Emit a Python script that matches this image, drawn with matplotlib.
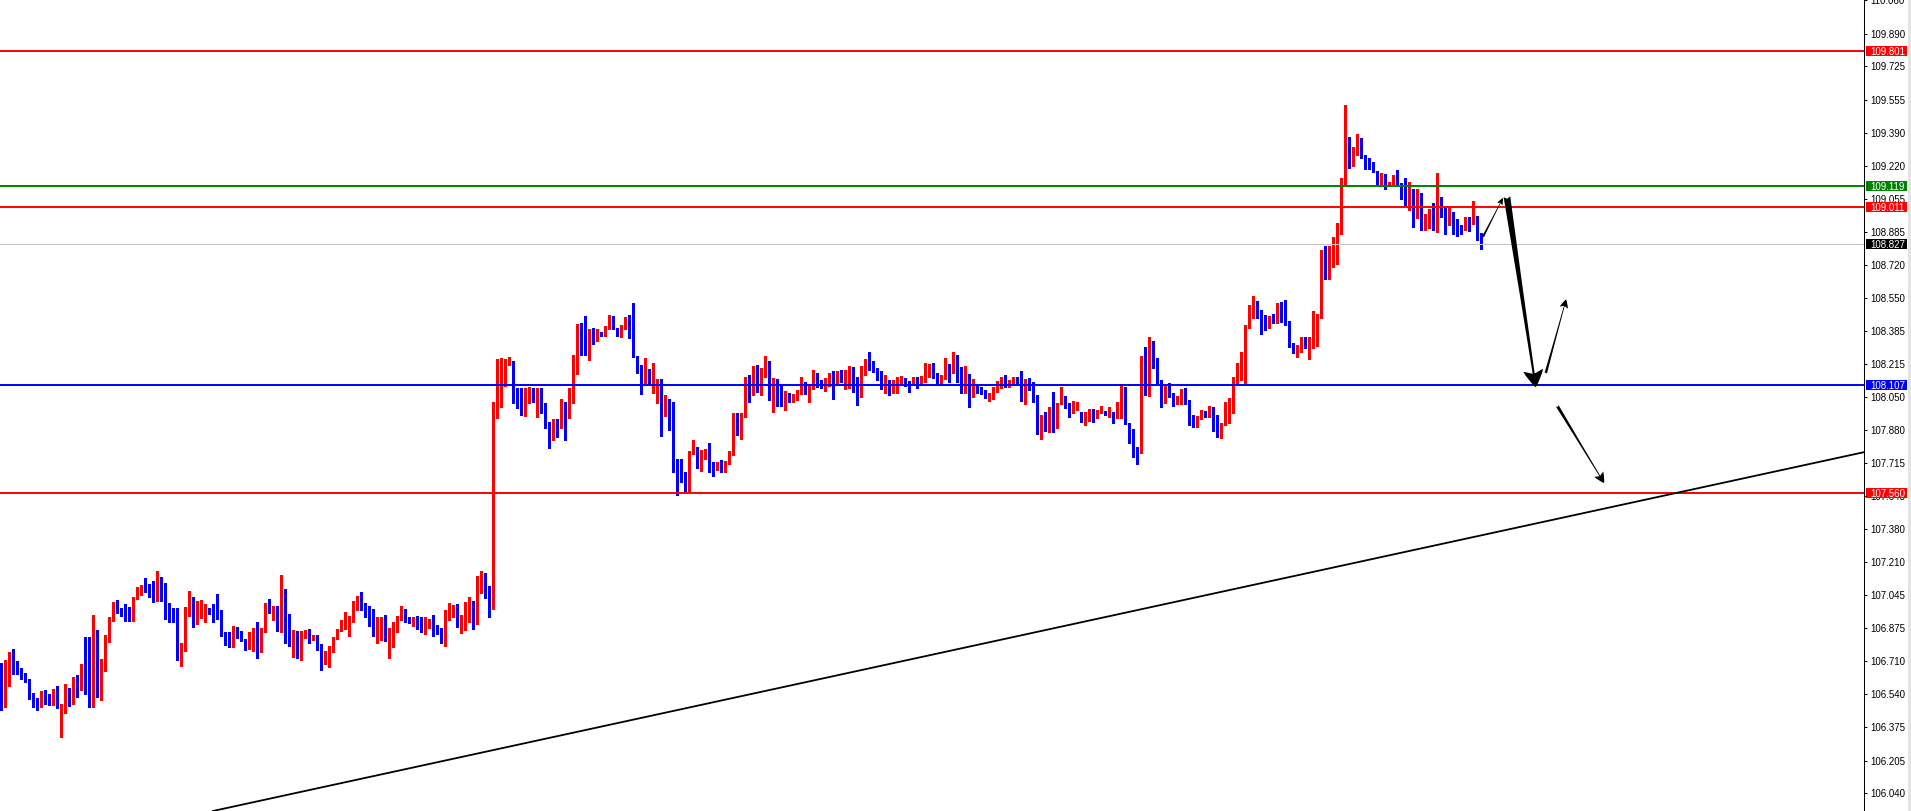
import numpy as np
import matplotlib
matplotlib.use('Agg')
import matplotlib.pyplot as plt
from matplotlib.patches import Rectangle
from matplotlib.transforms import blended_transform_factory

# ------------------------- Data (USDJPY-like H1 candles) -------------------------
opens = [
    106.654, 106.504, 106.690, 106.750, 106.684, 106.674, 106.619, 106.608, 106.527, 106.512,
    106.483, 106.544, 106.539, 106.493, 106.537, 106.473, 106.482, 106.537, 106.529, 106.619,
    106.575, 106.695, 106.695, 106.487, 106.857, 106.553, 106.671, 106.833, 106.930, 107.001,
    106.970, 106.948, 106.933, 106.923, 107.026, 107.077, 107.085, 107.065, 107.045, 107.016,
    107.109, 107.080, 106.979, 106.974, 106.969, 106.752, 106.762, 106.970, 107.019, 106.955,
    106.962, 106.965, 106.974, 106.953, 107.004, 106.969, 106.850, 106.847, 106.813, 106.860,
    106.862, 106.821, 106.788, 106.824, 106.866, 106.853, 106.870, 106.998, 106.971, 106.988,
    106.866, 107.074, 106.841, 106.812, 106.821, 106.736, 106.833, 106.855, 106.829, 106.836,
    106.773, 106.701, 106.751, 106.778, 106.822, 106.866, 106.897, 106.904, 106.924, 106.976,
    106.981, 106.985, 106.963, 106.895, 106.858, 106.863, 106.887, 106.821, 106.836, 106.878,
    106.924, 106.951, 106.927, 106.907, 106.914, 106.892, 106.863, 106.892, 106.912, 106.870,
    106.866, 106.799, 106.927, 106.951, 106.959, 106.887, 106.924, 106.971, 106.980, 106.926,
    107.106, 107.149, 107.076, 106.973, 107.994, 108.109, 108.197, 108.219, 108.231, 108.070,
    107.996, 107.957, 108.058, 108.073, 108.033, 108.080, 108.019, 107.918, 107.877, 107.931,
    107.914, 108.016, 107.999, 108.045, 108.227, 108.413, 108.401, 108.273, 108.384, 108.334,
    108.376, 108.364, 108.405, 108.427, 108.396, 108.368, 108.405, 108.444, 108.357, 108.256,
    108.188, 108.134, 108.185, 108.121, 108.126, 108.131, 107.960, 108.033, 108.023, 107.718,
    107.691, 107.668, 107.590, 107.771, 107.796, 107.739, 107.762, 107.774, 107.718, 107.691,
    107.708, 107.683, 107.715, 107.759, 107.953, 107.869, 107.952, 108.126, 108.070, 108.151,
    108.139, 108.168, 108.199, 108.050, 108.134, 108.041, 108.013, 108.057, 108.043, 108.050,
    108.070, 108.123, 108.080, 108.101, 108.163, 108.109, 108.104, 108.117, 108.172, 108.126,
    108.168, 108.134, 108.160, 108.185, 108.087, 108.075, 108.199, 108.239, 108.231, 108.180,
    108.177, 108.097, 108.131, 108.074, 108.092, 108.129, 108.134, 108.126, 108.109, 108.151,
    108.129, 108.139, 108.160, 108.190, 108.160, 108.126, 108.143, 108.188, 108.185, 108.222,
    108.190, 108.079, 108.165, 108.075, 108.109, 108.089, 108.074, 108.050, 108.055, 108.092,
    108.115, 108.130, 108.109, 108.123, 108.147, 108.123, 108.055, 108.118, 108.101, 108.050,
    107.885, 107.932, 107.881, 107.983, 107.979, 108.016, 108.054, 107.996, 107.969, 107.983,
    107.971, 107.929, 107.957, 107.971, 107.966, 107.971, 107.974, 107.962, 107.971, 107.944,
    107.971, 108.089, 107.915, 107.876, 107.788, 107.783, 108.231, 108.079, 108.282, 108.236,
    108.126, 108.025, 108.104, 108.064, 108.020, 108.020, 108.033, 108.016, 107.922, 107.903,
    107.944, 107.969, 107.957, 107.983, 107.907, 107.856, 107.910, 107.978, 108.005, 108.143,
    108.157, 108.233, 108.409, 108.487, 108.499, 108.473, 108.460, 108.423, 108.448, 108.431,
    108.510, 108.482, 108.434, 108.313, 108.291, 108.296, 108.346, 108.304, 108.335, 108.375,
    108.456, 108.774, 108.668, 108.781, 108.808, 108.909, 109.138, 109.285, 109.234, 109.298,
    109.356, 109.264, 109.254, 109.221, 109.195, 109.128, 109.175, 109.128, 109.138, 109.150,
    109.129, 109.065, 109.053, 109.087, 108.994, 109.082, 108.947, 108.947, 108.980, 108.980,
    109.053, 109.011, 108.960, 108.969, 108.933, 108.916, 108.918, 108.950, 108.933, 108.947,
    108.857,
]

highs = [
    106.698, 106.715, 106.754, 106.771, 106.710, 106.674, 106.649, 106.619, 106.548, 106.520,
    106.558, 106.563, 106.544, 106.568, 106.583, 106.493, 106.595, 106.573, 106.629, 106.639,
    106.695, 106.832, 106.832, 106.943, 106.867, 106.720, 106.843, 106.933, 107.011, 107.019,
    106.980, 107.001, 106.982, 107.036, 107.085, 107.094, 107.131, 107.100, 107.116, 107.166,
    107.136, 107.105, 107.004, 106.979, 106.979, 106.801, 106.982, 107.065, 107.034, 107.014,
    107.019, 106.999, 106.979, 106.999, 107.050, 106.969, 106.857, 106.857, 106.887, 106.884,
    106.862, 106.821, 106.857, 106.875, 106.907, 106.878, 107.002, 107.022, 106.988, 106.988,
    107.145, 107.074, 106.948, 106.866, 106.861, 106.861, 106.866, 106.870, 106.844, 106.841,
    106.794, 106.760, 106.785, 106.833, 106.870, 106.920, 106.959, 106.939, 107.013, 107.039,
    107.059, 107.002, 106.988, 106.973, 106.931, 106.931, 106.942, 106.875, 106.905, 106.939,
    106.988, 106.973, 106.934, 106.931, 106.939, 106.934, 106.931, 106.924, 106.942, 106.892,
    106.875, 106.968, 107.002, 106.993, 106.998, 106.942, 107.007, 107.035, 107.013, 107.142,
    107.164, 107.154, 107.090, 108.024, 108.241, 108.244, 108.242, 108.251, 108.231, 108.092,
    108.094, 108.092, 108.097, 108.092, 108.092, 108.092, 108.019, 107.923, 107.935, 107.935,
    108.038, 108.021, 108.092, 108.261, 108.418, 108.422, 108.459, 108.391, 108.401, 108.391,
    108.379, 108.408, 108.464, 108.461, 108.401, 108.413, 108.452, 108.464, 108.523, 108.256,
    108.210, 108.244, 108.190, 108.222, 108.141, 108.139, 108.058, 108.040, 108.023, 107.735,
    107.735, 107.668, 107.774, 107.833, 107.796, 107.779, 107.784, 107.813, 107.720, 107.720,
    107.728, 107.723, 107.774, 107.965, 107.965, 107.965, 108.151, 108.160, 108.205, 108.210,
    108.197, 108.256, 108.231, 108.143, 108.138, 108.117, 108.079, 108.067, 108.062, 108.084,
    108.150, 108.126, 108.117, 108.185, 108.168, 108.134, 108.146, 108.172, 108.182, 108.178,
    108.188, 108.188, 108.205, 108.202, 108.148, 108.205, 108.239, 108.275, 108.231, 108.194,
    108.180, 108.160, 108.134, 108.134, 108.151, 108.155, 108.146, 108.131, 108.151, 108.151,
    108.155, 108.222, 108.216, 108.222, 108.168, 108.160, 108.244, 108.216, 108.275, 108.261,
    108.202, 108.205, 108.165, 108.138, 108.117, 108.097, 108.084, 108.070, 108.097, 108.129,
    108.148, 108.160, 108.135, 108.152, 108.152, 108.180, 108.140, 108.145, 108.123, 108.059,
    107.957, 107.972, 107.996, 108.072, 108.016, 108.101, 108.054, 108.020, 108.030, 108.022,
    107.971, 107.971, 107.988, 107.988, 107.983, 108.003, 107.978, 107.996, 107.971, 108.025,
    108.115, 108.101, 107.915, 107.886, 107.793, 108.257, 108.304, 108.353, 108.333, 108.245,
    108.135, 108.109, 108.121, 108.067, 108.054, 108.089, 108.096, 108.033, 107.957, 107.952,
    107.983, 107.979, 108.003, 108.000, 107.957, 107.915, 108.025, 108.042, 108.152, 108.223,
    108.278, 108.414, 108.515, 108.561, 108.536, 108.490, 108.465, 108.460, 108.470, 108.524,
    108.532, 108.541, 108.434, 108.321, 108.313, 108.355, 108.355, 108.352, 108.487, 108.470,
    108.794, 108.816, 108.816, 108.862, 108.933, 109.161, 109.530, 109.366, 109.319, 109.383,
    109.364, 109.276, 109.259, 109.239, 109.195, 109.187, 109.180, 109.141, 109.175, 109.200,
    109.136, 109.161, 109.141, 109.104, 109.104, 109.082, 108.975, 109.001, 109.031, 109.183,
    109.062, 109.011, 109.011, 108.989, 108.950, 108.921, 108.964, 108.960, 109.043, 108.967,
    108.879,
]

lows = [
    106.461, 106.478, 106.585, 106.644, 106.644, 106.620, 106.605, 106.517, 106.478, 106.461,
    106.475, 106.492, 106.487, 106.487, 106.473, 106.326, 106.448, 106.483, 106.490, 106.529,
    106.564, 106.544, 106.477, 106.478, 106.529, 106.512, 106.659, 106.808, 106.914, 106.955,
    106.940, 106.914, 106.914, 106.914, 107.023, 107.046, 107.061, 107.034, 107.009, 107.016,
    107.016, 106.923, 106.909, 106.909, 106.715, 106.686, 106.762, 106.940, 106.884, 106.899,
    106.928, 106.909, 106.948, 106.909, 106.923, 106.837, 106.791, 106.783, 106.783, 106.825,
    106.811, 106.766, 106.771, 106.762, 106.726, 106.756, 106.858, 106.954, 106.917, 106.861,
    106.858, 106.802, 106.787, 106.731, 106.726, 106.714, 106.824, 106.799, 106.816, 106.765,
    106.663, 106.692, 106.680, 106.756, 106.819, 106.861, 106.870, 106.838, 106.909, 106.968,
    106.968, 106.934, 106.887, 106.836, 106.802, 106.816, 106.811, 106.726, 106.782, 106.858,
    106.917, 106.909, 106.900, 106.888, 106.870, 106.858, 106.849, 106.875, 106.838, 106.849,
    106.799, 106.787, 106.920, 106.931, 106.883, 106.853, 106.866, 106.907, 106.871, 106.897,
    107.056, 107.027, 106.934, 106.973, 107.942, 107.999, 108.104, 108.209, 108.016, 107.994,
    107.957, 107.952, 108.019, 108.024, 107.948, 107.969, 107.889, 107.791, 107.830, 107.847,
    107.889, 107.833, 107.940, 108.016, 108.163, 108.261, 108.261, 108.236, 108.315, 108.334,
    108.357, 108.359, 108.391, 108.391, 108.357, 108.351, 108.396, 108.346, 108.253, 108.171,
    108.063, 108.107, 108.107, 108.070, 108.019, 107.850, 107.952, 107.881, 107.669, 107.554,
    107.619, 107.568, 107.568, 107.762, 107.686, 107.674, 107.732, 107.669, 107.647, 107.678,
    107.669, 107.669, 107.708, 107.754, 107.855, 107.838, 107.948, 108.024, 108.058, 108.075,
    108.058, 108.151, 108.033, 107.974, 108.003, 108.003, 107.982, 108.024, 108.024, 108.033,
    108.063, 108.063, 108.024, 108.089, 108.097, 108.092, 108.079, 108.104, 108.038, 108.109,
    108.126, 108.087, 108.092, 108.075, 108.008, 108.050, 108.160, 108.185, 108.173, 108.134,
    108.089, 108.070, 108.058, 108.067, 108.067, 108.117, 108.104, 108.074, 108.109, 108.096,
    108.109, 108.126, 108.151, 108.143, 108.109, 108.117, 108.138, 108.126, 108.172, 108.126,
    108.070, 108.067, 107.999, 108.050, 108.067, 108.062, 108.045, 108.030, 108.041, 108.075,
    108.093, 108.098, 108.098, 108.118, 108.118, 108.030, 108.013, 108.084, 108.025, 107.861,
    107.837, 107.878, 107.873, 107.873, 107.890, 108.013, 107.991, 107.949, 107.969, 107.983,
    107.923, 107.905, 107.927, 107.923, 107.944, 107.966, 107.957, 107.949, 107.918, 107.940,
    107.944, 107.912, 107.817, 107.746, 107.707, 107.763, 108.059, 108.054, 108.194, 108.118,
    107.996, 108.016, 108.050, 108.003, 108.013, 108.011, 108.013, 107.907, 107.895, 107.895,
    107.935, 107.949, 107.949, 107.878, 107.844, 107.839, 107.907, 107.915, 107.969, 108.118,
    108.135, 108.115, 108.397, 108.451, 108.448, 108.367, 108.389, 108.401, 108.423, 108.423,
    108.431, 108.414, 108.301, 108.270, 108.250, 108.279, 108.296, 108.240, 108.296, 108.308,
    108.448, 108.646, 108.646, 108.710, 108.723, 108.874, 109.128, 109.212, 109.221, 109.276,
    109.259, 109.205, 109.205, 109.188, 109.124, 109.121, 109.104, 109.121, 109.129, 109.124,
    109.053, 109.019, 108.997, 108.913, 108.955, 108.896, 108.896, 108.904, 108.896, 108.887,
    108.964, 108.874, 108.921, 108.876, 108.867, 108.874, 108.896, 108.893, 108.925, 108.845,
    108.800,
]

closes = [
    106.504, 106.695, 106.750, 106.681, 106.666, 106.620, 106.605, 106.524, 106.509, 106.483,
    106.548, 106.534, 106.493, 106.537, 106.473, 106.482, 106.537, 106.529, 106.619, 106.575,
    106.695, 106.691, 106.493, 106.857, 106.553, 106.674, 106.837, 106.933, 107.001, 106.963,
    106.950, 106.928, 106.919, 107.029, 107.078, 107.085, 107.061, 107.041, 107.016, 107.107,
    107.077, 106.979, 106.970, 106.965, 106.752, 106.766, 106.974, 107.018, 106.958, 106.963,
    106.967, 106.974, 106.953, 106.913, 106.965, 106.847, 106.843, 106.813, 106.860, 106.857,
    106.816, 106.788, 106.832, 106.870, 106.853, 106.871, 106.998, 106.971, 106.988, 106.866,
    107.074, 106.844, 106.819, 106.821, 106.736, 106.836, 106.855, 106.829, 106.838, 106.770,
    106.701, 106.755, 106.778, 106.826, 106.866, 106.897, 106.912, 106.926, 106.971, 106.985,
    106.978, 106.959, 106.892, 106.858, 106.866, 106.883, 106.821, 106.838, 106.880, 106.931,
    106.951, 106.924, 106.907, 106.917, 106.887, 106.863, 106.900, 106.915, 106.863, 106.858,
    106.802, 106.931, 106.951, 106.963, 106.888, 106.926, 106.971, 106.980, 106.922, 107.108,
    107.149, 107.073, 106.973, 107.996, 108.101, 108.205, 108.222, 108.231, 108.070, 107.994,
    107.962, 108.063, 108.073, 108.029, 108.084, 108.016, 107.914, 107.877, 107.926, 107.918,
    108.016, 107.999, 108.046, 108.231, 108.410, 108.401, 108.273, 108.384, 108.334, 108.384,
    108.366, 108.405, 108.427, 108.396, 108.368, 108.405, 108.444, 108.354, 108.258, 108.185,
    108.134, 108.185, 108.121, 108.126, 108.134, 107.957, 108.033, 108.019, 107.715, 107.690,
    107.664, 107.590, 107.774, 107.796, 107.739, 107.766, 107.774, 107.715, 107.691, 107.712,
    107.681, 107.718, 107.769, 107.957, 107.872, 107.957, 108.126, 108.075, 108.151, 108.139,
    108.168, 108.199, 108.050, 108.134, 108.041, 108.013, 108.053, 108.043, 108.053, 108.079,
    108.126, 108.075, 108.101, 108.163, 108.104, 108.104, 108.117, 108.168, 108.126, 108.168,
    108.134, 108.165, 108.185, 108.080, 108.075, 108.202, 108.239, 108.232, 108.177, 108.172,
    108.097, 108.134, 108.074, 108.092, 108.129, 108.139, 108.117, 108.109, 108.151, 108.126,
    108.146, 108.165, 108.190, 108.155, 108.126, 108.143, 108.197, 108.185, 108.224, 108.190,
    108.079, 108.165, 108.075, 108.109, 108.080, 108.072, 108.050, 108.058, 108.092, 108.117,
    108.130, 108.104, 108.126, 108.147, 108.121, 108.055, 108.113, 108.087, 108.045, 107.885,
    107.927, 107.881, 107.983, 107.979, 108.016, 108.054, 107.994, 107.969, 107.986, 108.005,
    107.929, 107.957, 107.974, 107.966, 107.974, 107.978, 107.962, 107.969, 107.944, 107.971,
    108.089, 107.915, 107.873, 107.783, 107.783, 108.231, 108.081, 108.278, 108.231, 108.121,
    108.025, 108.104, 108.062, 108.005, 108.030, 108.033, 108.013, 107.912, 107.903, 107.945,
    107.969, 107.961, 107.983, 107.903, 107.856, 107.912, 107.978, 108.008, 108.147, 108.165,
    108.236, 108.414, 108.493, 108.499, 108.473, 108.456, 108.423, 108.460, 108.431, 108.510,
    108.477, 108.431, 108.304, 108.291, 108.299, 108.346, 108.299, 108.338, 108.375, 108.460,
    108.778, 108.668, 108.783, 108.811, 108.913, 109.144, 109.281, 109.239, 109.302, 109.356,
    109.264, 109.248, 109.217, 109.195, 109.128, 109.175, 109.128, 109.138, 109.146, 109.129,
    109.060, 109.053, 109.090, 108.994, 109.065, 108.947, 108.950, 108.980, 108.977, 109.053,
    109.009, 108.960, 108.969, 108.930, 108.908, 108.899, 108.947, 108.933, 108.947, 108.857,
    108.825,
]

price_ticks = [106.040, 106.205, 106.375, 106.540, 106.710, 106.875, 107.045, 107.210,
               107.380, 107.545, 107.715, 107.880, 108.050, 108.215, 108.385, 108.550,
               108.720, 108.885, 109.055, 109.220, 109.390, 109.555, 109.725, 109.890, 110.060]

# horizontal levels drawn on the chart
level_prices = [109.801, 109.119, 109.011, 108.827, 108.107, 107.560]

# trend line (bar index, price)
trend_x = [52.9, 465.7]
trend_y = [105.949, 107.769]

# hand drawn arrows: start and end (bar index, price)
arrow_x0 = [370.4, 376.4, 386.1, 389.0]
arrow_y0 = [108.860, 109.064, 108.169, 108.003]
arrow_x1 = [375.4, 383.6, 391.2, 400.7]
arrow_y1 = [109.058, 108.098, 108.544, 107.612]

# ------------------------- Styles -------------------------
UP = '#FF0000'
DOWN = '#0000FF'
level_colors = ['#FF0000', '#008000', '#FF0000', '#C0C0C0', '#0000FF', '#FF0000']
level_widths = [1.4, 1.4, 1.4, 0.72, 1.4, 1.4]
box_colors = ['#FF0000', '#008000', '#FF0000', '#000000', '#0000FF', '#FF0000']
arrow_styles = ['fancy,head_length=0.5,head_width=0.42,tail_width=0.15',
                'fancy,head_length=0.62,head_width=0.72,tail_width=0.24',
                'fancy,head_length=0.62,head_width=0.6,tail_width=0.18',
                'fancy,head_length=0.75,head_width=0.75,tail_width=0.22']
arrow_scales = [10, 20, 10, 10]

plt.rcParams['font.family'] = ['Liberation Sans', 'DejaVu Sans']

W, H = 1911, 811
AX_RIGHT = 1864
Y_MIN, Y_MAX = 105.949, 110.062

fig = plt.figure(figsize=(W / 100, H / 100), dpi=100)
fig.patch.set_facecolor('white')
ax = fig.add_axes([0, 0, AX_RIGHT / W, 1])
ax.set_facecolor('white')

# ------------------------- Candles -------------------------
o = np.array(opens)
c = np.array(closes)
x = np.arange(len(closes))
cols = np.where(c >= o, UP, DOWN)

ax.vlines(x, lows, highs, colors=cols, linewidth=0.75, antialiased=False, zorder=3)
body_h = np.maximum(np.abs(c - o), 0.004)
ax.bar(x, body_h, bottom=np.minimum(o, c), width=0.8, color=cols,
       linewidth=0, antialiased=False, zorder=4)

# ------------------------- Levels / lines -------------------------
for p, col, lw in zip(level_prices, level_colors, level_widths):
    ax.axhline(p, color=col, linewidth=lw, zorder=5)

ax.plot(trend_x, trend_y, color='black', linewidth=1.3, zorder=5)

for xa, ya, xb, yb, st, ms in zip(arrow_x0, arrow_y0, arrow_x1, arrow_y1, arrow_styles, arrow_scales):
    ax.annotate('', xy=(xb, yb), xytext=(xa, ya),
                arrowprops=dict(arrowstyle=st, mutation_scale=ms, color='black',
                                linewidth=0, shrinkA=0, shrinkB=0), zorder=8)

ax.set_xlim(-0.333, (AX_RIGHT - 1.33) / 4)
ax.set_ylim(Y_MIN, Y_MAX)

# ------------------------- Axis -------------------------
for s in ['top', 'left', 'bottom']:
    ax.spines[s].set_visible(False)
ax.spines['right'].set_linewidth(0.75)
ax.spines['right'].set_color('black')
ax.set_xticks([])
ax.yaxis.tick_right()
ax.set_yticks(price_ticks)
ax.set_yticklabels([f'{t:.3f}' for t in price_ticks])
ax.tick_params(axis='y', length=2.2, width=0.72, pad=2.5, labelsize=7, colors='black')

# price tags on the right scale
trans = blended_transform_factory(fig.transFigure, ax.transData)
px = (Y_MAX - Y_MIN) / H
for p, col in zip(level_prices, box_colors):
    ax.add_patch(Rectangle((1866 / W, p - 5 * px), 41 / W, 10 * px, transform=trans,
                           facecolor=col, edgecolor='none', clip_on=False, zorder=6))
    ax.text(1870.5 / W, p, f'{p:.3f}', transform=trans, color='white', fontsize=7,
            ha='left', va='center_baseline', clip_on=False, zorder=7)

# window border strip
fig.add_artist(Rectangle((1908 / W, 0), 3 / W, 1, transform=fig.transFigure,
                         facecolor='#E3E3E3', edgecolor='none'))

fig.savefig('out.png', dpi=100)
